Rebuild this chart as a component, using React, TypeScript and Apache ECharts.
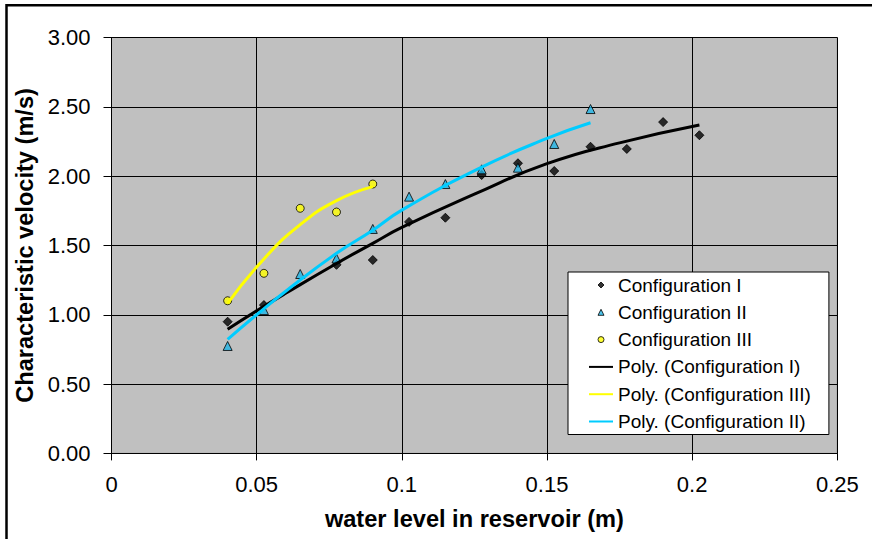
import React, { useEffect, useRef } from 'react';
import * as echarts from 'echarts';

const xConfigI = [0.04, 0.0525, 0.0775, 0.09, 0.1025, 0.115, 0.1275, 0.14, 0.1525, 0.165, 0.1775, 0.19, 0.2025];
const yConfigI = [0.95, 1.07, 1.36, 1.395, 1.67, 1.70, 2.008, 2.093, 2.037, 2.212, 2.196, 2.39, 2.295];

const xConfigII = [0.04, 0.0525, 0.065, 0.0775, 0.09, 0.1025, 0.115, 0.1275, 0.14, 0.1525, 0.165];
const yConfigII = [0.775, 1.034, 1.294, 1.406, 1.619, 1.852, 1.943, 2.049, 2.061, 2.232, 2.484];

const xConfigIII = [0.04, 0.0525, 0.065, 0.0775, 0.09];
const yConfigIII = [1.101, 1.299, 1.768, 1.741, 1.943];

// Trendlines (polynomial)
const xTrendI = [0.04, 0.05, 0.06, 0.0775, 0.09, 0.1, 0.125, 0.15, 0.175, 0.2025];
const yTrendI = [0.895, 1.028, 1.155, 1.37, 1.515, 1.63, 1.87, 2.09, 2.24, 2.369];

const xTrendII = [0.04, 0.05, 0.06, 0.0775, 0.09, 0.1, 0.1275, 0.15, 0.165];
const yTrendII = [0.823, 1.0, 1.17, 1.443, 1.61, 1.755, 2.065, 2.272, 2.385];

const xTrendIII = [0.04, 0.0525, 0.065, 0.0775, 0.09];
const yTrendIII = [1.083, 1.403, 1.65, 1.823, 1.924];

const xTicks = { min: 0, max: 0.25, interval: 0.05 };
const yTicks = { min: 0, max: 3, interval: 0.5 };

const FONT = "'Liberation Sans', Arial, sans-serif";

const ICON_DIAMOND = 'path://M5,0L10,5L5,10L0,5Z';
const ICON_TRIANGLE = 'path://M5,0L10,10L0,10Z';
const ICON_CIRCLE = 'path://M5,0A5,5,0,1,1,5,10A5,5,0,1,1,5,0Z';

const zip = (xs: number[], ys: number[]) => xs.map((x, i) => [x, ys[i]]);

export default function App() {
  const ref = useRef<HTMLDivElement>(null);

  useEffect(() => {
    if (!ref.current) return;
    const chart = echarts.init(ref.current, undefined, { renderer: 'svg' });
    const axisCommon = {
      type: 'value' as const,
      nameLocation: 'middle' as const,
      axisLine: { show: true, onZero: false, lineStyle: { color: '#000', width: 1 } },
      splitLine: { show: true, lineStyle: { color: '#000', width: 1 } },
      nameTextStyle: { fontSize: 23.6, fontWeight: 'bold', color: '#000', fontFamily: FONT },
    };
    const hiddenDot = { opacity: 0, borderWidth: 0 };
    chart.setOption({
      animation: false,
      textStyle: { fontFamily: FONT },
      graphic: [
        {
          type: 'polyline',
          shape: { points: [[6.5, 539], [6.5, 5.3], [872, 5.3]] },
          style: { stroke: '#000', lineWidth: 2.5, fill: 'none' },
          z: 100,
        },
      ],
      grid: {
        left: 111.5,
        right: 34.7,
        top: 37.5,
        bottom: 85.6,
        show: true,
        backgroundColor: '#c0c0c0',
        borderColor: '#808080',
        borderWidth: 1,
      },
      xAxis: {
        ...axisCommon,
        min: xTicks.min,
        max: xTicks.max,
        interval: xTicks.interval,
        name: 'water level in reservoir (m)',
        nameGap: 54,
        axisTick: { show: true, length: 7, lineStyle: { color: '#000' } },
        axisLabel: { fontSize: 22, color: '#000', margin: 20, fontFamily: FONT },
      },
      yAxis: {
        ...axisCommon,
        min: yTicks.min,
        max: yTicks.max,
        interval: yTicks.interval,
        name: 'Characteristic velocity (m/s)',
        nameGap: 68,
        axisTick: { show: true, length: 8, lineStyle: { color: '#000' } },
        axisLabel: {
          fontSize: 22,
          color: '#000',
          margin: 21,
          fontFamily: FONT,
          formatter: (v: number) => v.toFixed(2),
        },
      },
      legend: {
        orient: 'vertical',
        left: 568,
        top: 272,
        backgroundColor: '#fff',
        borderColor: '#000',
        borderWidth: 1,
        padding: [3, 18, 3, 20],
        itemWidth: 24,
        itemHeight: 6,
        itemGap: 7.3,
        itemStyle: { borderWidth: 1 },
        textStyle: { fontSize: 19, lineHeight: 20, color: '#000', fontFamily: FONT },
        data: [
          { name: 'Configuration I', icon: ICON_DIAMOND },
          { name: 'Configuration II', icon: ICON_TRIANGLE },
          { name: 'Configuration III', icon: ICON_CIRCLE },
          { name: 'Poly. (Configuration I)', itemStyle: hiddenDot },
          { name: 'Poly. (Configuration III)', itemStyle: hiddenDot },
          { name: 'Poly. (Configuration II)', itemStyle: hiddenDot },
        ],
      },
      series: [
        {
          name: 'Configuration I',
          type: 'scatter',
          symbol: 'diamond',
          symbolSize: 9,
          itemStyle: { color: '#000', borderColor: '#000', borderWidth: 1 },
          data: zip(xConfigI, yConfigI),
          z: 2,
        },
        {
          name: 'Configuration II',
          type: 'scatter',
          symbol: 'triangle',
          symbolSize: [9, 9],
          itemStyle: { color: '#1fb4e6', borderColor: '#000', borderWidth: 1 },
          data: zip(xConfigII, yConfigII),
          z: 2,
        },
        {
          name: 'Configuration III',
          type: 'scatter',
          symbol: 'circle',
          symbolSize: 8,
          itemStyle: { color: '#ffff00', borderColor: '#000', borderWidth: 1 },
          data: zip(xConfigIII, yConfigIII),
          z: 2,
        },
        {
          name: 'Poly. (Configuration I)',
          type: 'line',
          smooth: true,
          symbol: 'none',
          showSymbol: false,
          lineStyle: { color: '#000', width: 3 },
          itemStyle: { color: '#000' },
          data: zip(xTrendI, yTrendI),
          z: 3,
        },
        {
          name: 'Poly. (Configuration III)',
          type: 'line',
          smooth: true,
          symbol: 'none',
          showSymbol: false,
          lineStyle: { color: '#ffff00', width: 3 },
          itemStyle: { color: '#ffff00' },
          data: zip(xTrendIII, yTrendIII),
          z: 3,
        },
        {
          name: 'Poly. (Configuration II)',
          type: 'line',
          smooth: true,
          symbol: 'none',
          showSymbol: false,
          lineStyle: { color: '#00ccff', width: 3 },
          itemStyle: { color: '#00ccff' },
          data: zip(xTrendII, yTrendII),
          z: 3,
        },
      ],
    });
    return () => chart.dispose();
  }, []);

  return (
    <div
      ref={ref}
      style={{ position: 'fixed', left: 0, top: 0, width: 872, height: 539, background: '#fff' }}
    />
  );
}
